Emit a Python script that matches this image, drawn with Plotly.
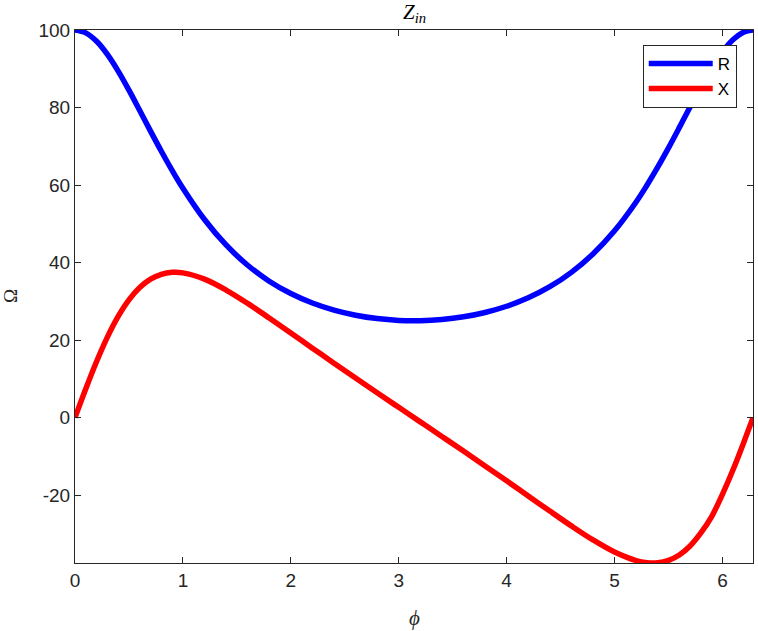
import plotly.graph_objects as go

phi = [0.0, 0.1, 0.2, 0.3, 0.4, 0.5, 0.6, 0.7, 0.8, 0.9, 1.0, 1.2, 1.4, 1.6, 1.8, 2.0, 2.2,
       2.4, 2.6, 2.8, 3.0, 3.2, 3.4, 3.6, 3.8, 4.0, 4.2, 4.4, 4.6, 4.8, 5.0, 5.2, 5.3, 5.4,
       5.5, 5.6, 5.7, 5.8, 5.9, 6.0, 6.1, 6.2, 6.2832]
R = [100.0, 99.26, 97.10, 93.72, 89.41, 84.49, 79.24, 73.92, 68.73, 63.79, 59.19, 51.11,
     44.54, 39.31, 35.20, 32.01, 29.56, 27.73, 26.42, 25.55, 25.09, 25.02, 25.32, 26.01,
     27.13, 28.73, 30.91, 33.77, 37.48, 42.22, 48.20, 55.64, 59.94, 64.60, 69.59, 74.81,
     80.13, 85.34, 89.99, 94.36, 97.55, 99.50, 100.0]
X = [0.0, 7.43, 14.47, 20.77, 26.11, 30.38, 33.56, 35.72, 36.98, 37.48, 37.35, 35.73,
     32.92, 29.47, 25.71, 21.83, 17.93, 14.05, 10.21, 6.42, 2.66, -1.10, -4.85, -8.63,
     -12.45, -16.31, -20.20, -24.10, -27.93, -31.54, -34.67, -36.87, -37.41, -37.44,
     -36.82, -35.42, -33.10, -29.74, -25.51, -19.78, -13.33, -6.20, 0.0]

xticks = [0, 1, 2, 3, 4, 5, 6]
yticks = [-20, 0, 20, 40, 60, 80, 100]
ytext = ["-20", "0", "20", "40", "60", "80", "100"]

axc = "#262626"
fig = go.Figure()
fig.add_trace(go.Scatter(x=phi, y=R, mode="lines", name="R",
                         line=dict(color="rgb(0,0,255)", width=5.5, shape="spline", smoothing=1.0)))
fig.add_trace(go.Scatter(x=phi, y=X, mode="lines", name="X",
                         line=dict(color="rgb(255,0,0)", width=5.5, shape="spline", smoothing=1.0)))

fig.update_layout(
    width=758, height=631,
    margin=dict(l=75, r=5, t=30, b=68, autoexpand=False),
    paper_bgcolor="white", plot_bgcolor="white",
    font=dict(family="Liberation Sans, Arial", size=19, color=axc),
    showlegend=True,
    legend=dict(x=0.976, y=0.972, xanchor="right", yanchor="top",
                bgcolor="white", bordercolor=axc, borderwidth=1, itemwidth=64,
                font=dict(size=17, color="black"), tracegroupgap=0),
    xaxis=dict(range=[0, 6.2832], tickvals=xticks, ticks="inside", ticklen=6,
               tickcolor=axc, showline=True, linecolor=axc, linewidth=1,
               mirror="ticks", showgrid=False, zeroline=False),
    yaxis=dict(range=[-37.5, 100], tickvals=yticks, ticktext=ytext, ticks="inside",
               ticklen=6, tickcolor=axc, showline=True, linecolor=axc, linewidth=1,
               mirror="ticks", showgrid=False, zeroline=False),
    annotations=[
        dict(text="<i>Z</i><sub><i>in</i></sub>", x=0.5, y=1, xref="paper", yref="paper",
             xanchor="center", yanchor="bottom", yshift=2, showarrow=False,
             font=dict(family="Liberation Serif, Times New Roman", size=21, color="black")),
        dict(text="<i>ϕ</i>", x=0.5, y=0, xref="paper", yref="paper",
             xanchor="center", yanchor="top", yshift=-41, showarrow=False,
             font=dict(family="Liberation Serif, Times New Roman", size=21, color=axc)),
        dict(text="Ω", x=0, y=0.5, xref="paper", yref="paper", textangle=-90,
             xanchor="right", yanchor="middle", xshift=-52, showarrow=False,
             font=dict(family="Liberation Serif, Times New Roman", size=19, color=axc)),
    ],
)

fig.write_html("out.html", config={"displayModeBar": False},
               post_script="document.body.style.margin='0';")
